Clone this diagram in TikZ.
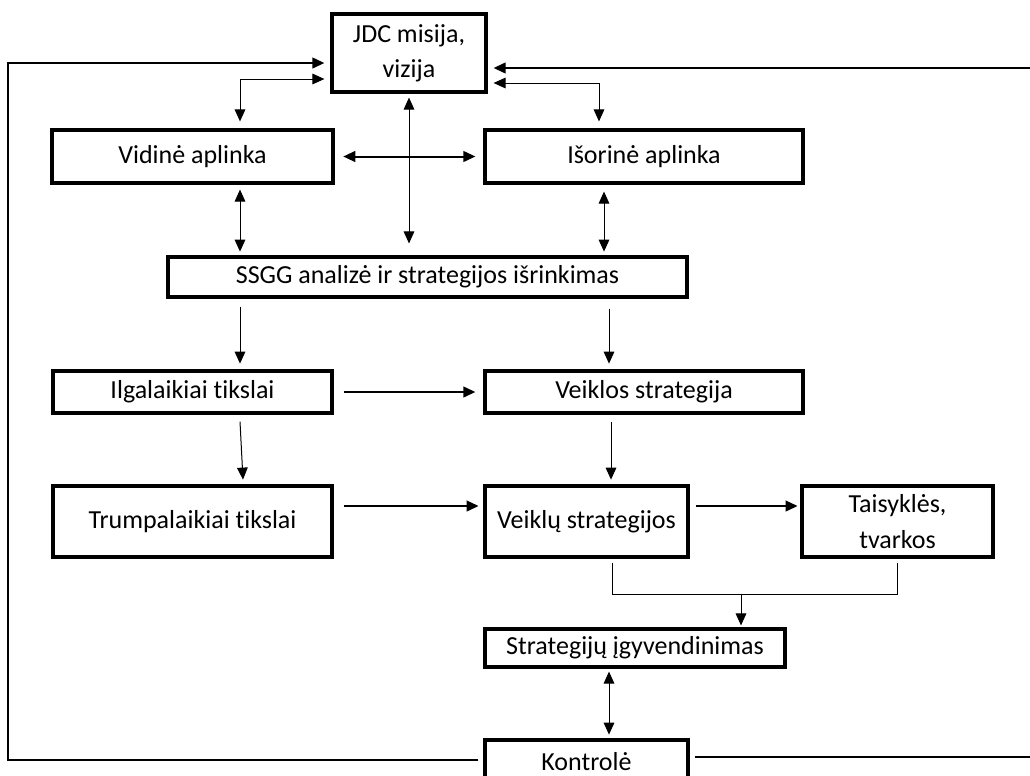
\documentclass[tikz,border=0pt]{standalone}
\usepackage{fontspec}
\setmainfont{Carlito}[Ligatures=NoCommon]
\usetikzlibrary{arrows.meta}

\begin{document}
\begin{tikzpicture}[x=0.75pt, y=-0.75pt,
        box/.style={draw, line width=2.4pt, inner sep=0pt, align=center, font=\fontsize{19.5}{26.5}\selectfont},
        thinar/.style={line width=0.75pt, >={Triangle[length=9pt,width=8pt]}},
        boldar/.style={line width=1.5pt, >={Triangle[length=9pt,width=8pt]}}]
        \useasboundingbox (0,0) rectangle (1030,775);

        % Mission
        \node[box, minimum width=115.5pt, minimum height=58.5pt] (jdc) at (409, 53) {JDC misija,\\vizija};

        % Environment
        \node[box, minimum width=210.75pt, minimum height=39.75pt] (vid) at (192.5, 156.5) {Vidinė aplinka};
        \node[box, minimum width=238.5pt, minimum height=39.75pt] (isor) at (644, 156.5) {Išorinė aplinka};

        % Analysis
        \node[box, minimum width=389.25pt, minimum height=30pt] (ssgg) at (427.5, 277) {SSGG analizė ir strategijos išrinkimas};

        % Goals and strategies
        \node[box, minimum width=209.25pt, minimum height=31.5pt] (ilg) at (192.5, 392) {Ilgalaikiai tikslai};
        \node[box, minimum width=238.5pt, minimum height=31.5pt] (veik) at (644, 392) {Veiklos strategija};
        \node[box, minimum width=209.25pt, minimum height=53.25pt] (trump) at (192.5, 521.5) {Trumpalaikiai tikslai};
        \node[box, minimum width=152.25pt, minimum height=53.25pt] (veikl) at (586.5, 521.5) {Veiklų strategijos};
        \node[box, minimum width=143.25pt, minimum height=53.25pt] (tais) at (897.5, 521.5) {Taisyklės,\\tvarkos};

        % Implementation and control
        \node[box, minimum width=225pt, minimum height=28.5pt] (sigyv) at (635, 648) {Strategijų įgyvendinimas};
        \node[box, minimum width=152.25pt, minimum height=33pt] (kontr) at (586.5, 762) {Kontrolė};

        % Connections around the mission
        \draw[thinar, <->] ([shift={(47.5,-7)}]vid.north) |- ([shift={(-6,26)}]jdc.west);
        \draw[thinar, <->] ([shift={(6,30)}]jdc.east) -| ([shift={(-45,-7)}]isor.north);
        \draw[thinar, <->, shorten <=3pt, shorten >=9pt] (jdc.south) -- (jdc.south |- ssgg.north);
        \draw[boldar, <->, shorten <=6.5pt, shorten >=6pt] (vid) -- (isor);

        \draw[thinar, <->] ([shift={(47.5,5)}]vid.south) -- ++(0,62);
        \draw[thinar, <->] ([shift={(-40,7)}]isor.south) -- ++(0,60);

        \draw[thinar, ->] ([shift={(-187.5,8)}]ssgg.south) -- ++(0,57);
        \draw[thinar, ->] ([shift={(181.5,10)}]ssgg.south) -- ++(0,55);

        \draw[boldar, ->, shorten <=7.5pt, shorten >=6pt] (ilg) -- (veik);
        \draw[thinar, ->] ([shift={(47.5,7)}]ilg.south) -- ++(3,58);
        \draw[thinar, ->] ([shift={(-33,7)}]veik.south) -- ++(0,58);

        \draw[boldar, ->] ([shift={(10,-15.5)}]trump.east) -- ++(135,0);
        \draw[boldar, ->] ([shift={(6,-15.5)}]veikl.east) -- ++(102,0);

        % Joining into implementation
        \draw[line width=0.75pt] ([shift={(25.5,4)}]veikl.south) |- ([shift={(0,36)}]tais.south) -- ([shift={(0,4)}]tais.south);
        \coordinate (merge) at ([shift={(-156.5,36)}]tais.south);
        \draw[thinar, ->, shorten >=1.5pt] (merge) -- (merge |- sigyv.north);
        \draw[thinar, <->] ([shift={(-26,3)}]sigyv.south) -- ++(0,63);

        % Feedback from control
        \draw[boldar, ->] ([shift={(-5,-2)}]kontr.west) -- ++(-470,0) |- ([shift={(-6,10)}]jdc.west);
        \draw[boldar, ->] ([shift={(5,-5)}]kontr.east) -- ++(360,0) |- ([shift={(6,15)}]jdc.east);
    \end{tikzpicture}
\end{document}
